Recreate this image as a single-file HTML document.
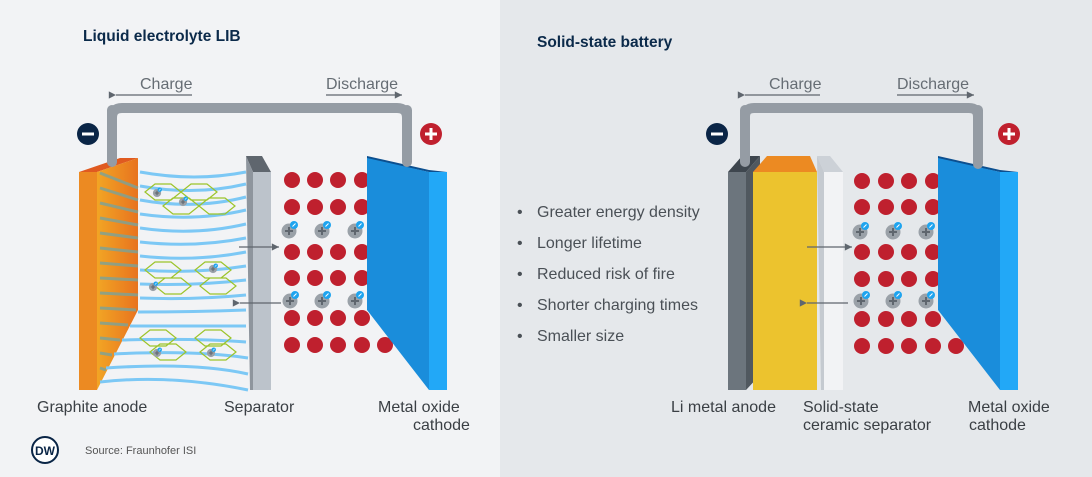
<!DOCTYPE html>
<html><head><meta charset="utf-8"><style>
html,body{margin:0;padding:0;width:1092px;height:477px;overflow:hidden}
svg{display:block}
text{font-family:"Liberation Sans",sans-serif}
</style></head><body>
<svg width="1092" height="477" viewBox="0 0 1092 477" xmlns="http://www.w3.org/2000/svg">
<defs>
<marker id="al" markerWidth="8" markerHeight="8" refX="1" refY="4" orient="auto"><path d="M7,1 L1,4 L7,7 Z" fill="#5f666e"/></marker>
<marker id="ar" markerWidth="8" markerHeight="8" refX="7" refY="4" orient="auto"><path d="M1,1 L7,4 L1,7 Z" fill="#5f666e"/></marker>
<linearGradient id="og" x1="0" x2="1"><stop offset="0" stop-color="#f2a524"/><stop offset="1" stop-color="#e8731f"/></linearGradient>
<g id="ion"><circle r="7.5" fill="#9aa1a8"/><path d="M-4,0 H4 M0,-4 V4" stroke="#5f666e" stroke-width="2"/><circle cx="5" cy="-6" r="4" fill="#1ea4ef"/><path d="M3.5,-4.5 L6.5,-7.5" stroke="#fff" stroke-width="1"/></g>
</defs>
<rect x="0" y="0" width="500" height="477" fill="#f2f3f5"/>
<rect x="500" y="0" width="592" height="477" fill="#e5e8eb"/>

<!-- LEFT -->
<text x="83" y="41" font-size="15.5" font-weight="bold" fill="#0b2a4a">Liquid electrolyte LIB</text>
<text x="140" y="89" font-size="16" fill="#666d74">Charge</text>
<line x1="192" y1="95" x2="116" y2="95" stroke="#5f666e" stroke-width="1.2" marker-end="url(#al)"/>
<text x="326" y="89" font-size="16" fill="#666d74">Discharge</text>
<line x1="326" y1="95" x2="402" y2="95" stroke="#5f666e" stroke-width="1.2" marker-end="url(#ar)"/>
<path d="M112,162 V118 Q112,108 122,108 H397 Q407,108 407,118 V162" fill="none" stroke="#959ca4" stroke-width="10"/>
<circle cx="88" cy="134" r="11" fill="#0a2546"/><rect x="82" y="132.5" width="12" height="3" fill="#fff"/>
<circle cx="431" cy="134" r="11" fill="#c0202e"/><path d="M425,134 H437 M431,128 V140" stroke="#fff" stroke-width="3"/>

<!-- anode -->
<polygon points="79,172 97,172 138,158 120,158" fill="#e05a20"/>
<polygon points="97,172 138,158 138,310 97,390" fill="url(#og)"/>
<rect x="79" y="172" width="18" height="218" fill="#ec8a22"/>
<g stroke="#7aa39a" stroke-width="3" opacity="0.8">
<line x1="100" y1="173" x2="138" y2="188"/><line x1="100" y1="188" x2="138" y2="200"/><line x1="100" y1="203" x2="138" y2="212"/>
<line x1="100" y1="218" x2="138" y2="225"/><line x1="100" y1="233" x2="138" y2="238"/><line x1="100" y1="248" x2="138" y2="252"/>
<line x1="100" y1="263" x2="138" y2="266"/><line x1="100" y1="278" x2="138" y2="280"/><line x1="100" y1="293" x2="138" y2="295"/>
<line x1="100" y1="308" x2="136" y2="310"/><line x1="100" y1="323" x2="128" y2="325"/><line x1="100" y1="338" x2="120" y2="340"/>
<line x1="100" y1="353" x2="112" y2="355"/><line x1="100" y1="368" x2="106" y2="370"/>
</g>
<g fill="none" stroke="#7cc8f5" stroke-width="3">
<path d="M140,172 Q195,182 246,172"/><path d="M140,186 Q195,196 246,184"/><path d="M140,200 Q195,210 246,197"/>
<path d="M140,214 Q195,222 246,210"/><path d="M140,228 Q195,236 246,224"/><path d="M140,242 Q195,248 246,238"/>
<path d="M140,256 Q195,262 246,252"/><path d="M140,270 Q195,274 246,266"/><path d="M140,284 Q195,286 246,280"/>
<path d="M140,298 Q195,300 246,295"/><path d="M138,312 Q195,312 246,310"/><path d="M130,326 Q195,326 246,326"/>
<path d="M122,340 Q195,338 246,342"/><path d="M114,354 Q195,350 248,358"/><path d="M106,368 Q195,362 248,374"/>
<path d="M100,382 Q170,374 248,390"/>
</g>
<g fill="none" stroke="#9cc42a" stroke-width="1.2">
<path d="M145,192 l10,-8 h16 l10,8 l-10,8 h-16 z M181,192 l10,-8 h16 l10,8 l-10,8 h-16 z M163,206 l10,-8 h16 l10,8 l-10,8 h-16 z M199,206 l10,-8 h16 l10,8 l-10,8 h-16 z"/>
<path d="M145,270 l10,-8 h16 l10,8 l-10,8 h-16 z M195,270 l10,-8 h16 l10,8 l-10,8 h-16 z M155,286 l10,-8 h16 l10,8 l-10,8 h-16 z M200,286 l10,-8 h16 l10,8 l-10,8 h-16 z"/>
<path d="M140,338 l10,-8 h16 l10,8 l-10,8 h-16 z M195,338 l10,-8 h16 l10,8 l-10,8 h-16 z M150,352 l10,-8 h16 l10,8 l-10,8 h-16 z M200,352 l10,-8 h16 l10,8 l-10,8 h-16 z"/>
</g>
<use href="#ion" transform="translate(157,193) scale(0.55)"/><use href="#ion" transform="translate(183,202) scale(0.55)"/>
<use href="#ion" transform="translate(213,269) scale(0.55)"/><use href="#ion" transform="translate(153,287) scale(0.55)"/>
<use href="#ion" transform="translate(157,353) scale(0.55)"/><use href="#ion" transform="translate(211,353) scale(0.55)"/>
<polygon points="246,156 262,156 271,172 253,172" fill="#5f666e"/>
<polygon points="246,156 253,172 253,390 250,390" fill="#8e959d"/>
<rect x="253" y="172" width="18" height="218" fill="#bcc3cb"/>
<g fill="#bf202e">
<circle cx="292" cy="180" r="8"/><circle cx="315" cy="180" r="8"/><circle cx="338" cy="180" r="8"/><circle cx="362" cy="180" r="8"/>
<circle cx="292" cy="207" r="8"/><circle cx="315" cy="207" r="8"/><circle cx="338" cy="207" r="8"/><circle cx="362" cy="207" r="8"/>
<circle cx="292" cy="252" r="8"/><circle cx="315" cy="252" r="8"/><circle cx="338" cy="252" r="8"/><circle cx="362" cy="252" r="8"/>
<circle cx="292" cy="278" r="8"/><circle cx="315" cy="278" r="8"/><circle cx="338" cy="278" r="8"/><circle cx="362" cy="278" r="8"/>
<circle cx="292" cy="318" r="8"/><circle cx="315" cy="318" r="8"/><circle cx="338" cy="318" r="8"/><circle cx="362" cy="318" r="8"/>
<circle cx="292" cy="345" r="8"/><circle cx="315" cy="345" r="8"/><circle cx="338" cy="345" r="8"/><circle cx="362" cy="345" r="8"/><circle cx="385" cy="345" r="8"/>
</g>
<use href="#ion" x="289" y="231"/><use href="#ion" x="322" y="231"/><use href="#ion" x="355" y="231"/>
<use href="#ion" x="290" y="301"/><use href="#ion" x="322" y="301"/><use href="#ion" x="355" y="301"/>
<line x1="239" y1="247" x2="279" y2="247" stroke="#5f666e" stroke-width="1.2" marker-end="url(#ar)"/>
<line x1="281" y1="303" x2="240" y2="303" stroke="#5f666e" stroke-width="1.2" marker-end="url(#al)"/>
<polygon points="367,156 429,170 447,172 429,172 367,159" fill="#0c4f8f"/>
<polygon points="367,158 429,172 429,390 367,310" fill="#1a8ddb"/>
<rect x="429" y="172" width="18" height="218" fill="#22a8f7"/>
<path d="M407,110 V162" stroke="#959ca4" stroke-width="10" stroke-linecap="round"/>
<path d="M112,110 V162" stroke="#959ca4" stroke-width="10" stroke-linecap="round"/>

<g font-size="16" fill="#3a3f44">
<text x="37" y="412">Graphite anode</text>
<text x="224" y="412">Separator</text>
<text x="378" y="412">Metal oxide</text>
<text x="413" y="430">cathode</text>
</g>
<circle cx="45" cy="450" r="13" fill="#fff" stroke="#0a2546" stroke-width="2"/>
<text x="45" y="455" font-size="12" font-weight="bold" fill="#0a2546" text-anchor="middle">DW</text>
<text x="85" y="454" font-size="11" fill="#555">Source: Fraunhofer ISI</text>

<!-- RIGHT -->
<text x="537" y="47" font-size="15.5" font-weight="bold" fill="#0b2a4a">Solid-state battery</text>
<text x="769" y="89" font-size="16" fill="#666d74">Charge</text>
<line x1="820" y1="95" x2="745" y2="95" stroke="#5f666e" stroke-width="1.2" marker-end="url(#al)"/>
<text x="897" y="89" font-size="16" fill="#666d74">Discharge</text>
<line x1="897" y1="95" x2="974" y2="95" stroke="#5f666e" stroke-width="1.2" marker-end="url(#ar)"/>
<path d="M745,164 V117 Q745,108 754,108 H969 Q978,108 978,117 V164" fill="none" stroke="#959ca4" stroke-width="10"/>
<circle cx="717" cy="134" r="11" fill="#0a2546"/><rect x="711" y="132.5" width="12" height="3" fill="#fff"/>
<circle cx="1009" cy="134" r="11" fill="#c0202e"/><path d="M1003,134 H1015 M1009,128 V140" stroke="#fff" stroke-width="3"/>
<g font-size="16" fill="#4a5056">
<text x="517" y="217">•</text><text x="537" y="217">Greater energy density</text>
<text x="517" y="248">•</text><text x="537" y="248">Longer lifetime</text>
<text x="517" y="279">•</text><text x="537" y="279">Reduced risk of fire</text>
<text x="517" y="310">•</text><text x="537" y="310">Shorter charging times</text>
<text x="517" y="341">•</text><text x="537" y="341">Smaller size</text>
</g>
<polygon points="728,172 746,172 760,156 742,156" fill="#3e464e"/>
<polygon points="746,172 760,156 760,375 746,390" fill="#50585f"/>
<rect x="728" y="172" width="18" height="218" fill="#6c757d"/>
<polygon points="753,172 817,172 810,156 767,156" fill="#ec8a22"/>
<rect x="753" y="172" width="64" height="218" fill="#ecc32e"/>
<polygon points="817,156 830,156 843,172 824,172" fill="#ccd1d7"/>
<polygon points="817,156 824,172 824,390 821,390" fill="#c5cad0"/>
<rect x="824" y="172" width="19" height="218" fill="#f2f3f5"/>
<path d="M745,110 V162" stroke="#959ca4" stroke-width="10" stroke-linecap="round"/>
<g fill="#bf202e">
<circle cx="862" cy="181" r="8"/><circle cx="886" cy="181" r="8"/><circle cx="909" cy="181" r="8"/><circle cx="933" cy="181" r="8"/>
<circle cx="862" cy="207" r="8"/><circle cx="886" cy="207" r="8"/><circle cx="909" cy="207" r="8"/><circle cx="933" cy="207" r="8"/>
<circle cx="862" cy="252" r="8"/><circle cx="886" cy="252" r="8"/><circle cx="909" cy="252" r="8"/><circle cx="933" cy="252" r="8"/>
<circle cx="862" cy="279" r="8"/><circle cx="886" cy="279" r="8"/><circle cx="909" cy="279" r="8"/><circle cx="933" cy="279" r="8"/>
<circle cx="862" cy="319" r="8"/><circle cx="886" cy="319" r="8"/><circle cx="909" cy="319" r="8"/><circle cx="933" cy="319" r="8"/>
<circle cx="862" cy="346" r="8"/><circle cx="886" cy="346" r="8"/><circle cx="909" cy="346" r="8"/><circle cx="933" cy="346" r="8"/><circle cx="956" cy="346" r="8"/>
</g>
<use href="#ion" x="860" y="232"/><use href="#ion" x="893" y="232"/><use href="#ion" x="926" y="232"/>
<use href="#ion" x="861" y="301"/><use href="#ion" x="893" y="301"/><use href="#ion" x="926" y="301"/>
<line x1="807" y1="247" x2="852" y2="247" stroke="#5f666e" stroke-width="1.2" marker-end="url(#ar)"/>
<line x1="848" y1="303" x2="807" y2="303" stroke="#5f666e" stroke-width="1.2" marker-end="url(#al)"/>
<polygon points="938,156 1000,170 1018,172 1000,172 938,159" fill="#0c4f8f"/>
<polygon points="938,158 1000,172 1000,390 938,310" fill="#1a8ddb"/>
<rect x="1000" y="172" width="18" height="218" fill="#22a8f7"/>
<path d="M978,110 V164" stroke="#959ca4" stroke-width="10" stroke-linecap="round"/>
<g font-size="16" fill="#3a3f44">
<text x="671" y="412">Li metal anode</text>
<text x="803" y="412">Solid-state</text>
<text x="803" y="430">ceramic separator</text>
<text x="968" y="412">Metal oxide</text>
<text x="969" y="430">cathode</text>
</g>
</svg>
</body></html>
